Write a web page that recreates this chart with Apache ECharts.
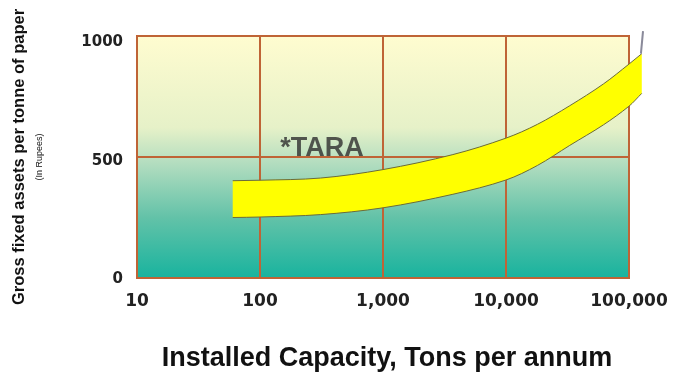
<!DOCTYPE html>
<html>
<head>
<meta charset="utf-8">
<script src="https://cdn.jsdelivr.net/npm/echarts@6/dist/echarts.min.js"></script>
<style>
  html, body { margin: 0; padding: 0; background: #fff; }
  #chart { width: 675px; height: 373px; }
</style>
</head>
<body>
<div id="chart"></div>
<script>
// capacity (tons per annum) and the band limits (Rs per tonne)
const capacity = [60, 100, 310, 1000, 3700, 10000, 18000, 33000, 62000, 100000, 127000]
const bandLow  = [250, 252, 262, 290, 346, 405, 465, 548, 633, 710, 763]
const bandHigh = [402, 404, 413, 448, 510, 578, 635, 712, 802, 884, 927]
const tipLine = [[125000, 927], [130000, 1020]]
const yTicks = [0, 500, 1000]
const xTickLabels = { 10: '10', 100: '100', 1000: '1,000', 10000: '10,000', 100000: '100,000' }
const tagPoint = [[319, 536]]

const chart = echarts.init(document.getElementById('chart'))
const gridColor = '#bf6436'

// smooth path through pixel points, tangents from neighbouring slopes
const curveThrough = (pts, start) => {
  const n = pts.length
  const slope = pts.map((p, i) => {
    const a = pts[Math.max(i - 1, 0)]
    const b = pts[Math.min(i + 1, n - 1)]
    return (b[1] - a[1]) / (b[0] - a[0])
  })
  let d = start ? `M${pts[0][0]},${pts[0][1]}` : `L${pts[0][0]},${pts[0][1]}`
  for (let i = 0; i < n - 1; i++) {
    const p1 = pts[i]
    const p2 = pts[i + 1]
    const dx = (p2[0] - p1[0]) / 3
    const c1 = [p1[0] + dx, p1[1] + slope[i] * dx]
    const c2 = [p2[0] - dx, p2[1] - slope[i + 1] * dx]
    d += `C${c1[0]},${c1[1]} ${c2[0]},${c2[1]} ${p2[0]},${p2[1]}`
  }
  return d
}

const renderBand = (params, api) => {
  const upper = capacity.map((c, i) => api.coord([c, bandHigh[i]]))
  const lower = capacity.map((c, i) => api.coord([c, bandLow[i]]))
  const lowerRev = lower.slice().reverse()
  const tip = tipLine.map((p) => api.coord(p))
  return {
    type: 'group',
    children: [
      {
        type: 'path',
        shape: { pathData: curveThrough(upper, true) + curveThrough(lowerRev, false) + 'Z' },
        style: { fill: '#ffff00', stroke: null },
      },
      {
        type: 'path',
        shape: { pathData: curveThrough(upper, true) },
        style: { fill: null, stroke: '#6b6b3a', lineWidth: 1 },
      },
      {
        type: 'path',
        shape: { pathData: curveThrough(lower, true) },
        style: { fill: null, stroke: '#6b6b3a', lineWidth: 1 },
      },
      {
        type: 'line',
        shape: { x1: tip[0][0], y1: tip[0][1], x2: tip[1][0], y2: tip[1][1] },
        style: { stroke: '#8a8a9a', lineWidth: 2 },
      },
    ],
  }
}

// nudge the y tick labels down a little, as in the picture
const yLabelShift = { 1000: 't1', 500: 't2', 0: 't3' }

chart.setOption({
  animation: false,
  textStyle: { fontFamily: 'Liberation Sans, Arial, sans-serif' },
  grid: {
    left: 137, right: 46, top: 36, bottom: 95,
    outerBoundsMode: 'none',
    containLabel: false,
    show: true,
    borderColor: '#cf5a26',
    borderWidth: 2,
    backgroundColor: new echarts.graphic.LinearGradient(0, 0, 0, 1, [
      { offset: 0, color: '#fffcd0' },
      { offset: 0.38, color: '#e6f1c8' },
      { offset: 0.52, color: '#b5dec0' },
      { offset: 0.75, color: '#62c2a8' },
      { offset: 1, color: '#17b39e' },
    ]),
  },
  xAxis: {
    type: 'log',
    logBase: 10,
    min: 10,
    max: 100000,
    name: 'Installed Capacity, Tons per annum',
    nameLocation: 'middle',
    nameGap: 67,
    nameTextStyle: {
      fontWeight: 'bold', fontSize: 27, color: '#111', padding: [0, 0, 0, 8],
    },
    axisLine: { show: true, lineStyle: { color: gridColor, width: 2 } },
    axisTick: { show: false },
    axisLabel: {
      margin: 15,
      fontFamily: 'DejaVu Sans',
      fontSize: 17,
      fontWeight: 'bold',
      color: '#222',
      formatter: (v) => xTickLabels[Math.round(v)] || '',
    },
    splitLine: { show: true, lineStyle: { color: gridColor, width: 2 } },
  },
  yAxis: {
    type: 'value',
    min: 0,
    max: 1000,
    interval: 500,
    name: '{a|Gross fixed assets per tonne of paper}\n{b|(In Rupees)}',
    nameLocation: 'middle',
    nameGap: 90,
    nameRotate: 90,
    nameTextStyle: {
      rich: {
        a: { fontWeight: 'bold', fontSize: 16.5, color: '#111', lineHeight: 28 },
        b: { fontSize: 9, color: '#111', lineHeight: 14 },
      },
    },
    axisLine: { show: true, lineStyle: { color: gridColor, width: 2 } },
    axisTick: { show: false },
    axisLabel: {
      margin: 14,
      fontFamily: 'DejaVu Sans',
      fontSize: 15,
      fontWeight: 'bold',
      color: '#222',
      formatter: (v) => (yTicks.includes(v) ? `{${yLabelShift[v]}|${v}}` : ''),
      rich: {
        t1: { padding: [12, 0, 0, 0] },
        t2: { padding: [8, 0, 0, 0] },
        t3: { padding: [2, 0, 0, 0] },
      },
    },
    splitLine: { show: true, lineStyle: { color: gridColor, width: 2 } },
  },
  series: [
    {
      type: 'custom',
      coordinateSystem: 'cartesian2d',
      clip: false,
      data: [[capacity[0], bandLow[0]]],
      renderItem: renderBand,
    },
    {
      type: 'scatter',
      data: tagPoint,
      symbolSize: 0,
      label: {
        show: true,
        position: 'inside',
        formatter: '*TARA',
        fontSize: 27,
        fontWeight: 'bold',
        color: '#2e2e2e',
      },
    },
  ],
})
</script>
</body>
</html>
